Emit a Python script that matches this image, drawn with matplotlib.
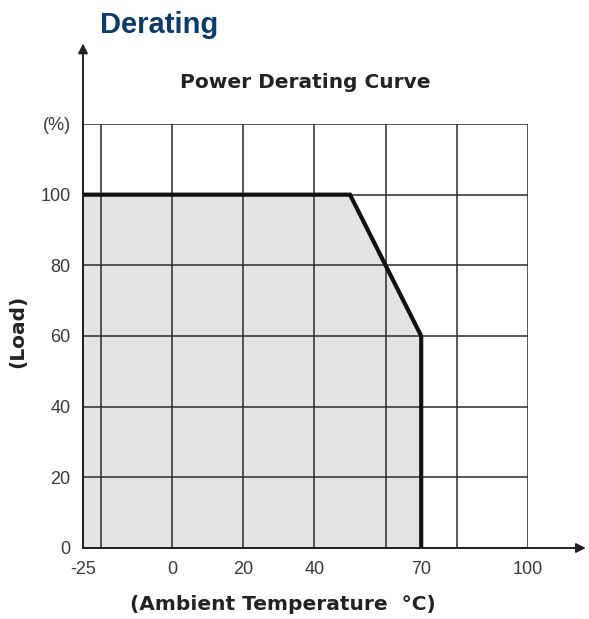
import matplotlib.pyplot as plt

# derating curve points
temp = [-25, 50, 70, 70]
load = [100, 100, 60, 0]

x_ticks = [-25, 0, 20, 40, 70, 100]
y_ticks = [0, 20, 40, 60, 80, 100]
x_grid = [-20, 0, 20, 40, 60, 80, 100]
y_grid = [20, 40, 60, 80, 100, 120]

plt.rcParams["font.family"] = ["Liberation Sans", "DejaVu Sans"]

fig = plt.figure(figsize=(5.89, 6.19), dpi=100)
ax = fig.add_axes([83 / 589, 71 / 619, 445 / 589, 424 / 619])

ax.set_xlim(-25, 100)
ax.set_ylim(0, 120)

ax.fill_between(temp, load, 0, color="#e3e3e3", lw=0, zorder=1)
for gx in x_grid:
    ax.axvline(gx, color="#2a2a2a", lw=1.1, zorder=2)
for gy in y_grid:
    ax.axhline(gy, color="#2a2a2a", lw=1.1, zorder=2)
ax.plot(temp, load, color="#111111", lw=3, solid_joinstyle="miter", zorder=3)

for s in ["top", "right"]:
    ax.spines[s].set_visible(False)
for s in ["left", "bottom"]:
    ax.spines[s].set_color("#222222")
    ax.spines[s].set_linewidth(1.4)

ax.set_xticks(x_ticks)
ax.set_xticklabels([str(v) for v in x_ticks])
ax.set_yticks(y_ticks + [120])
ax.set_yticklabels([str(v) for v in y_ticks] + ["(%)"])
ax.tick_params(length=0, labelsize=13, colors="#3a3a3a", pad=9)
ax.tick_params(axis="x", pad=9)

# axis arrows
ax.annotate("", xy=(0, 1.19), xytext=(0, 0), xycoords="axes fraction",
            arrowprops=dict(arrowstyle="-|>", color="#222222", lw=1.4,
                            mutation_scale=14, shrinkA=0, shrinkB=0))
ax.annotate("", xy=(1.13, 0), xytext=(0, 0), xycoords="axes fraction",
            arrowprops=dict(arrowstyle="-|>", color="#222222", lw=1.4,
                            mutation_scale=14, shrinkA=0, shrinkB=0))

fig.text(100 / 589, 1 - 25 / 619, "Derating", color="#0a3a6e",
         fontsize=21, fontweight="bold", va="center", ha="left")
fig.text(305 / 589, 1 - 82 / 619, "Power Derating Curve", color="#222222",
         fontsize=14.5, fontweight="bold", va="center", ha="center",
         family="DejaVu Sans")
fig.text(18 / 589, 1 - 331 / 619, "(Load)", color="#222222", rotation=90,
         fontsize=14.5, fontweight="bold", va="center", ha="center",
         family="DejaVu Sans")
fig.text(283 / 589, 1 - 605 / 619, "(Ambient Temperature  °C)",
         color="#222222", fontsize=14.5, fontweight="bold",
         va="center", ha="center", family="DejaVu Sans")

fig.savefig("out.png", dpi=100)
